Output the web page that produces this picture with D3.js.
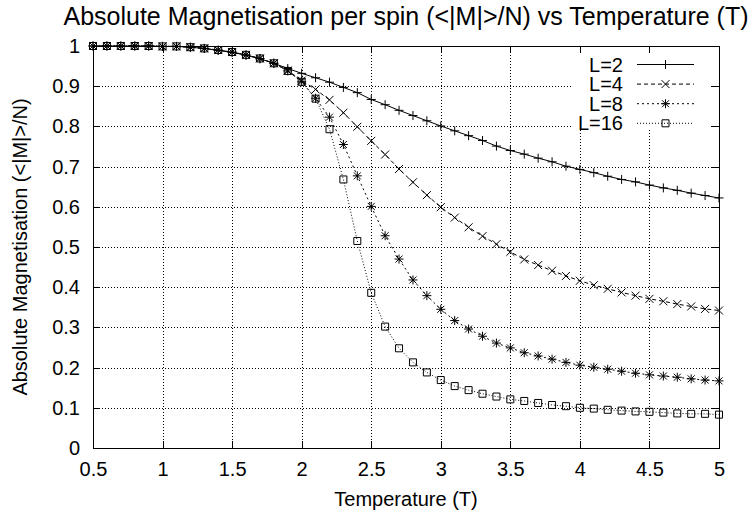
<!DOCTYPE html>
<html>
<head>
<meta charset="utf-8">
<script src="https://cdn.jsdelivr.net/npm/d3@7"></script>
<style>
  html, body { margin: 0; padding: 0; background: #fff; }
  svg { display: block; font-family: "Liberation Sans", Arial, Helvetica, sans-serif; }
</style>
</head>
<body>
<div id="chart"></div>
<script>
// temperatures sampled by the simulation
const temps = [0.5, 0.6, 0.7, 0.8, 0.9, 1.0, 1.1, 1.2, 1.3, 1.4,
               1.5, 1.6, 1.7, 1.8, 1.9, 2.0, 2.1, 2.2, 2.3, 2.4,
               2.5, 2.6, 2.7, 2.8, 2.9, 3.0, 3.1, 3.2, 3.3, 3.4,
               3.5, 3.6, 3.7, 3.8, 3.9, 4.0, 4.1, 4.2, 4.3, 4.4,
               4.5, 4.6, 4.7, 4.8, 4.9, 5.0];

// <|M|>/N for each lattice size
const magL2 = [1.000, 1.000, 1.000, 1.000, 1.000, 0.999, 0.999, 0.997, 0.994, 0.989,
               0.984, 0.977, 0.968, 0.957, 0.944, 0.932, 0.921, 0.910, 0.897, 0.884,
               0.867, 0.854, 0.840, 0.827, 0.814, 0.801, 0.789, 0.777, 0.765, 0.751,
               0.740, 0.731, 0.721, 0.712, 0.701, 0.693, 0.685, 0.676, 0.668, 0.662,
               0.654, 0.647, 0.641, 0.634, 0.628, 0.622];
const magL4 = [1.000, 1.000, 1.000, 1.000, 1.000, 0.999, 0.999, 0.997, 0.994, 0.990,
               0.985, 0.978, 0.969, 0.957, 0.939, 0.914, 0.892, 0.866, 0.834, 0.799,
               0.764, 0.730, 0.694, 0.661, 0.629, 0.599, 0.573, 0.549, 0.527, 0.507,
               0.488, 0.469, 0.455, 0.441, 0.428, 0.416, 0.405, 0.396, 0.387, 0.379,
               0.371, 0.365, 0.358, 0.352, 0.346, 0.342];
const magL8 = [1.000, 1.000, 1.000, 1.000, 1.000, 0.999, 0.999, 0.997, 0.994, 0.990,
               0.985, 0.978, 0.969, 0.957, 0.938, 0.911, 0.870, 0.823, 0.755, 0.677,
               0.601, 0.528, 0.470, 0.418, 0.379, 0.345, 0.317, 0.296, 0.278, 0.261,
               0.249, 0.237, 0.229, 0.221, 0.213, 0.206, 0.201, 0.196, 0.191, 0.186,
               0.182, 0.179, 0.176, 0.172, 0.169, 0.167];
const magL16 = [1.000, 1.000, 1.000, 1.000, 1.000, 0.999, 0.999, 0.997, 0.994, 0.990,
                0.985, 0.978, 0.969, 0.957, 0.938, 0.911, 0.869, 0.793, 0.668, 0.515,
                0.386, 0.302, 0.248, 0.213, 0.188, 0.169, 0.154, 0.144, 0.135, 0.128,
                0.121, 0.117, 0.112, 0.107, 0.104, 0.100, 0.098, 0.095, 0.093, 0.091,
                0.090, 0.088, 0.086, 0.085, 0.085, 0.083];

const seriesNames = ['L=2', 'L=4', 'L=8', 'L=16'];
const xTicks = [0.5, 1, 1.5, 2, 2.5, 3, 3.5, 4, 4.5, 5];
const yTicks = [0, 0.1, 0.2, 0.3, 0.4, 0.5, 0.6, 0.7, 0.8, 0.9, 1];

const titleText = 'Absolute Magnetisation per spin (<|M|>/N) vs Temperature (T)';
const xLabel = 'Temperature (T)';
const yLabel = 'Absolute Magnetisation (<|M|>/N)';

// ###
// LAYOUT
// ###
const width = 754, height = 521;
const margin = {top: 46, right: 35, bottom: 73, left: 93};
const innerWidth = width - margin.left - margin.right,
      innerHeight = height - margin.top - margin.bottom;

const series = [
  {name: seriesNames[0], values: magL2,  dash: null,  marker: 'plus'},
  {name: seriesNames[1], values: magL4,  dash: '4,3', marker: 'cross'},
  {name: seriesNames[2], values: magL8,  dash: '2,3', marker: 'star'},
  {name: seriesNames[3], values: magL16, dash: '1,2', marker: 'box'}
];

const markerPath = {
  plus:  'M-4.5,0H4.5M0,-4.5V4.5',
  cross: 'M-4,-4L4,4M-4,4L4,-4',
  star:  'M-4.5,0H4.5M0,-4.5V4.5M-3.5,-3.5L3.5,3.5M-3.5,3.5L3.5,-3.5',
  box:   'M-3.5,-3.5H3.5V3.5H-3.5Z'
};

const svg = d3.select('#chart').append('svg')
  .attr('width', width)
  .attr('height', height);

const x = d3.scaleLinear().domain([0.5, 5]).range([0, innerWidth]);
const y = d3.scaleLinear().domain([0, 1]).range([innerHeight, 0]);

const g = svg.append('g')
  .attr('transform', `translate(${margin.left}, ${margin.top})`);

// grid
const grid = g.append('g').attr('class', 'grid')
  .attr('stroke', '#000')
  .attr('stroke-width', 1)
  .attr('stroke-dasharray', '1,2')
  .attr('shape-rendering', 'crispEdges');

grid.selectAll('.gx')
  .data(xTicks.slice(1, -1))
  .join('line')
  .attr('x1', d => Math.round(x(d)) + 0.5)
  .attr('x2', d => Math.round(x(d)) + 0.5)
  .attr('y1', 0).attr('y2', innerHeight);

grid.selectAll('.gy')
  .data(yTicks.slice(1, -1))
  .join('line')
  .attr('y1', d => Math.round(y(d)) + 0.5)
  .attr('y2', d => Math.round(y(d)) + 0.5)
  .attr('x1', 0).attr('x2', innerWidth);

// key area blanks the grid behind it
g.append('rect')
  .attr('x', 573 - margin.left)
  .attr('y', 53 - margin.top)
  .attr('width', 138)
  .attr('height', 76)
  .attr('fill', '#fff');

// axes (ticks point inward, mirrored on top and right)
const fmt = d => String(+d.toFixed(1));

const xAxis = g.append('g')
  .attr('transform', `translate(0, ${innerHeight})`)
  .call(d3.axisBottom(x).tickValues(xTicks).tickFormat(fmt).tickSizeInner(-7).tickSizeOuter(0).tickPadding(14));

const yAxis = g.append('g')
  .call(d3.axisLeft(y).tickValues(yTicks).tickFormat(fmt).tickSizeInner(-7).tickSizeOuter(0).tickPadding(13));

g.append('g')
  .call(d3.axisTop(x).tickValues(xTicks).tickFormat('').tickSizeInner(-7).tickSizeOuter(0));

g.append('g')
  .attr('transform', `translate(${innerWidth}, 0)`)
  .call(d3.axisRight(y).tickValues(yTicks).tickFormat('').tickSizeInner(-7).tickSizeOuter(0));

g.selectAll('.domain').remove();
g.selectAll('.tick line').attr('stroke', '#000').attr('shape-rendering', 'crispEdges');
g.selectAll('.tick text')
  .attr('fill', '#000')
  .style('font-size', '20px')
  .style('font-family', '"Liberation Sans", Arial, sans-serif');

// border
g.append('rect')
  .attr('x', 0.5).attr('y', 0.5)
  .attr('width', innerWidth).attr('height', innerHeight)
  .attr('fill', 'none')
  .attr('stroke', '#000')
  .attr('shape-rendering', 'crispEdges');

// ###
// LINES AND POINTS
// ###
const line = d3.line()
  .x((d, i) => x(temps[i]))
  .y(d => y(d));

series.forEach(s => {
  g.append('path')
    .datum(s.values)
    .attr('d', line)
    .attr('fill', 'none')
    .attr('stroke', '#000')
    .attr('stroke-width', 1)
    .attr('stroke-dasharray', s.dash);

  g.append('g').selectAll('path')
    .data(s.values)
    .join('path')
    .attr('transform', (d, i) => `translate(${x(temps[i])}, ${y(d)})`)
    .attr('d', markerPath[s.marker])
    .attr('fill', 'none')
    .attr('stroke', '#000')
    .attr('stroke-width', 1);
});

// ###
// KEY
// ###
const key = svg.append('g').attr('class', 'key');
series.forEach((s, i) => {
  const ky = 64.5 + i * 19.6;
  key.append('text')
    .attr('x', 623)
    .attr('y', ky)
    .attr('dy', '0.35em')
    .attr('text-anchor', 'end')
    .style('font-size', '20px')
    .text(s.name);
  key.append('line')
    .attr('x1', 637).attr('x2', 694)
    .attr('y1', ky).attr('y2', ky)
    .attr('stroke', '#000')
    .attr('stroke-dasharray', s.dash);
  key.append('path')
    .attr('transform', `translate(665.5, ${ky})`)
    .attr('d', markerPath[s.marker])
    .attr('fill', 'none')
    .attr('stroke', '#000');
});

// ###
// TITLES
// ###
svg.append('text')
  .attr('x', margin.left + innerWidth / 2)
  .attr('y', 25)
  .attr('text-anchor', 'middle')
  .style('font-size', '25px')
  .text(titleText);

svg.append('text')
  .attr('x', margin.left + innerWidth / 2)
  .attr('y', 506)
  .attr('text-anchor', 'middle')
  .style('font-size', '20px')
  .text(xLabel);

svg.append('text')
  .attr('transform', `translate(27, 247) rotate(-90)`)
  .attr('text-anchor', 'middle')
  .style('font-size', '20px')
  .text(yLabel);
</script>
</body>
</html>
